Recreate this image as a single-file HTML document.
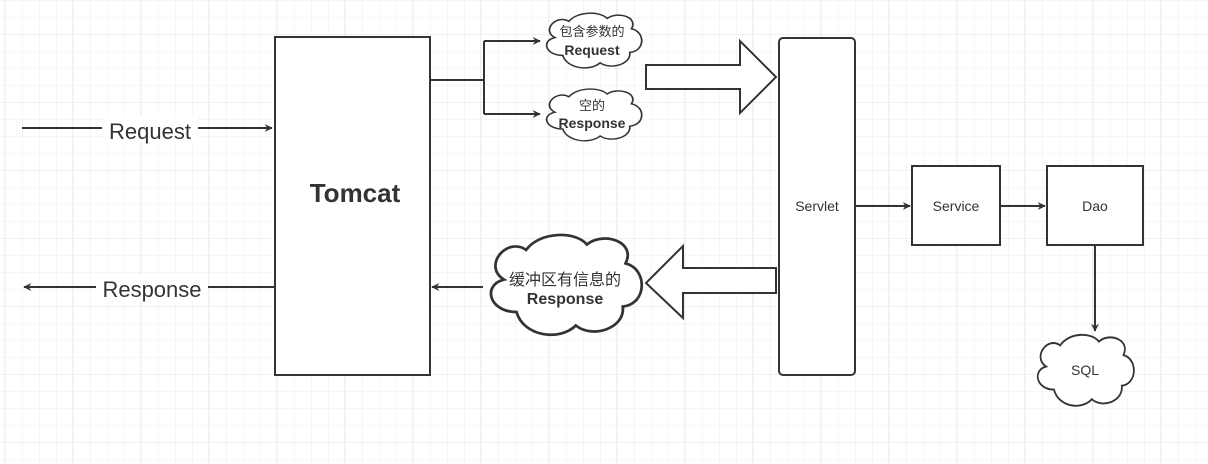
<!DOCTYPE html>
<html><head><meta charset="utf-8"><style>
html,body{margin:0;padding:0;background:#fff}
svg{display:block}
text{font-family:"Liberation Sans","Noto Sans CJK SC",sans-serif;fill:#333}
.s{stroke:#333;stroke-width:2;fill:none}
.w{stroke:#333;stroke-width:2;fill:#fff}
.c{vector-effect:non-scaling-stroke}
</style></head><body>
<svg width="1208" height="464" viewBox="0 0 1208 464" xmlns="http://www.w3.org/2000/svg">
<defs>
<pattern id="g1" width="17" height="17" patternUnits="userSpaceOnUse" x="5" y="0">
<path d="M0 0V17M0 0H17" stroke="#eeeeee" stroke-width="1" fill="none"/>
</pattern>
<pattern id="g2" width="68" height="68" patternUnits="userSpaceOnUse" x="4" y="34">
<path d="M0 0V68M0 0H68" stroke="#e2e2e2" stroke-width="1" fill="none"/>
</pattern>
<marker id="a" viewBox="0 0 10 10" refX="9" refY="5" markerWidth="8" markerHeight="8" markerUnits="userSpaceOnUse" orient="auto"><path d="M0 0L10 5L0 10L3 5Z" fill="#333"/></marker>
<path id="cl" d="M25 60C5 60 0 40 16 36C0 26 18 4 32 14C42 0 68 0 76 10C88 0 112 8 104 24C120 28 120 54 102 56C104 72 80 80 68 70C56 82 30 78 25 60Z"/>
</defs>
<rect width="1208" height="464" fill="url(#g1)"/>
<rect width="1208" height="464" fill="url(#g2)"/>

<!-- Request / Response left -->
<line x1="22" y1="128" x2="272" y2="128" class="s" marker-end="url(#a)"/>
<rect x="102" y="116" width="96" height="26" fill="#fff"/>
<text x="150" y="139" font-size="22" text-anchor="middle">Request</text>
<line x1="274" y1="287" x2="24" y2="287" class="s" marker-end="url(#a)"/>
<rect x="96" y="275" width="112" height="26" fill="#fff"/>
<text x="152" y="297" font-size="22" text-anchor="middle">Response</text>

<!-- Tomcat -->
<rect x="275" y="37" width="155" height="338" class="w"/>
<text x="355" y="202" font-size="26" font-weight="bold" text-anchor="middle">Tomcat</text>

<!-- branch -->
<path d="M430 80H484V41" class="s"/>
<path d="M484 80V114" class="s"/>
<line x1="484" y1="41" x2="540" y2="41" class="s" marker-end="url(#a)"/>
<line x1="484" y1="114" x2="540" y2="114" class="s" marker-end="url(#a)"/>

<!-- clouds -->
<g transform="translate(541,11) scale(0.87,0.74)"><use href="#cl" class="w c"/></g>
<text x="592" y="36" font-size="13" text-anchor="middle">包含参数的</text>
<text x="592" y="55" font-size="14" font-weight="bold" text-anchor="middle">Request</text>
<g transform="translate(541,87) scale(0.87,0.70)"><use href="#cl" class="w c"/></g>
<text x="592" y="110" font-size="13" text-anchor="middle">空的</text>
<text x="592" y="128" font-size="14" font-weight="bold" text-anchor="middle">Response</text>

<!-- big right arrow -->
<path d="M646 65H740V41L776 77L740 113V89H646Z" class="w"/>

<!-- Servlet -->
<rect x="779" y="38" width="76" height="337" rx="4" class="w"/>
<text x="817" y="211" font-size="14" text-anchor="middle">Servlet</text>
<line x1="855" y1="206" x2="910" y2="206" class="s" marker-end="url(#a)"/>
<rect x="912" y="166" width="88" height="79" class="w"/>
<text x="956" y="211" font-size="14" text-anchor="middle">Service</text>
<line x1="1000" y1="206" x2="1045" y2="206" class="s" marker-end="url(#a)"/>
<rect x="1047" y="166" width="96" height="79" class="w"/>
<text x="1095" y="211" font-size="14" text-anchor="middle">Dao</text>
<line x1="1095" y1="245" x2="1095" y2="331" class="s" marker-end="url(#a)"/>
<g transform="translate(1032,332) scale(0.88,0.96)"><use href="#cl" class="w c"/></g>
<text x="1085" y="375" font-size="14" text-anchor="middle">SQL</text>

<!-- big left arrow -->
<path d="M776 268H683V246L646 283L683 318V293H776Z" class="w"/>

<!-- cloud 3 -->
<g transform="translate(482,231) scale(1.38,1.35)"><use href="#cl" class="w c"/></g>
<line x1="483" y1="287" x2="432" y2="287" class="s" marker-end="url(#a)"/>
<text x="565" y="285" font-size="16" text-anchor="middle">缓冲区有信息的</text>
<text x="565" y="304" font-size="16" font-weight="bold" text-anchor="middle">Response</text>
</svg>
</body></html>
